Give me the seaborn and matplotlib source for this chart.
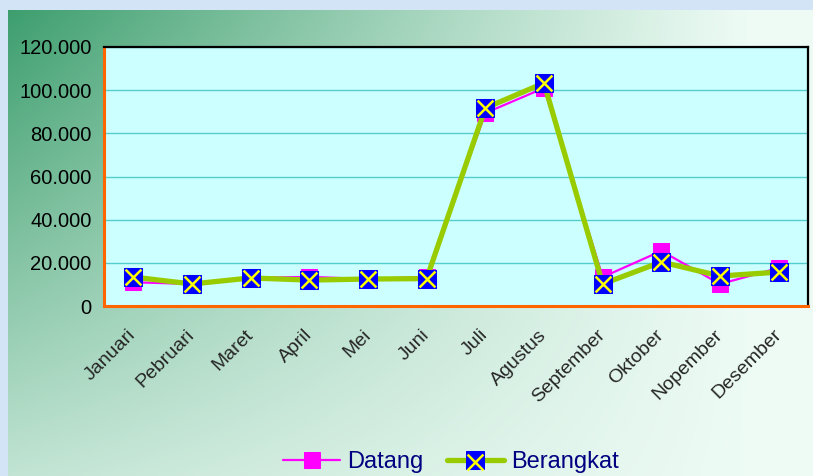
import numpy as np
import pandas as pd
import seaborn as sns
import matplotlib.pyplot as plt
from matplotlib.ticker import FuncFormatter
from matplotlib.legend_handler import HandlerTuple
from matplotlib.transforms import ScaledTranslation

# data
bulan = ['Januari', 'Pebruari', 'Maret', 'April', 'Mei', 'Juni', 'Juli',
         'Agustus', 'September', 'Oktober', 'Nopember', 'Desember']
datang = [11000, 10200, 13000, 13500, 12500, 13500, 89400, 101000,
          13400, 25500, 10200, 17600]
berangkat = [13400, 10200, 13000, 12000, 12500, 12700, 91700, 103300,
             10200, 20400, 13900, 15700]
y_ticks = [0, 20000, 40000, 60000, 80000, 100000, 120000]

df = pd.DataFrame({'bulan': bulan, 'Datang': datang, 'Berangkat': berangkat})

sns.set_style('white')
plt.rcParams['font.family'] = ['Liberation Sans', 'DejaVu Sans']

fig = plt.figure(figsize=(8.13, 4.76), dpi=100, facecolor='#d4e4f7')

# backdrop: green gradient fading to white
bg = fig.add_axes([8 / 813, 0, 1 - 8 / 813, 1 - 10 / 476])
gx, gy = np.meshgrid(np.linspace(0, 1, 300), np.linspace(0, 1, 200))
w = np.clip(1 - gx / 0.92, 0, 1) ** 1.1 * (1 - 0.75 * gy)
dark = np.array([0.24, 0.62, 0.43])
light = np.array([0.93, 0.985, 0.96])
img = light[None, None, :] * (1 - w[..., None]) + dark[None, None, :] * w[..., None]
bg.imshow(img, aspect='auto', extent=[0, 1, 0, 1], origin='upper')
bg.set_axis_off()

ax = fig.add_axes([104 / 813, 1 - 306 / 476, 704 / 813, 259 / 476])
ax.set_facecolor('#ccffff')

sns.lineplot(data=df, x='bulan', y='Datang', ax=ax, sort=False, color='#ff00ff',
             lw=1.6, marker='s', markersize=12, markerfacecolor='#ff00ff',
             markeredgecolor='#ff00ff', zorder=3)
sns.lineplot(data=df, x='bulan', y='Berangkat', ax=ax, sort=False, color='#99cc00',
             lw=3.8, marker='s', markersize=13, markerfacecolor='#0000ff',
             markeredgecolor='#0000ff', zorder=4)
sns.scatterplot(data=df, x='bulan', y='Berangkat', ax=ax, marker='x', s=130,
                color='#ffff00', linewidth=1.8, zorder=5)

line_d, line_b = ax.lines[0], ax.lines[1]
cross = ax.collections[-1]

ax.set_xlim(-0.5, 11.5)
ax.set_ylim(0, 120000)
ax.set_yticks(y_ticks)
ax.yaxis.set_major_formatter(FuncFormatter(lambda v, p: f'{int(v):,}'.replace(',', '.')))
ax.yaxis.grid(True, color='#55cccc', lw=1)
ax.set_axisbelow(True)

ax.set_xticks(np.arange(-0.5, 12, 1))
ax.set_xticklabels([])
ax.set_xticks(range(len(bulan)), minor=True)
ax.set_xticklabels(bulan, minor=True, rotation=45, ha='right',
                   rotation_mode='anchor', va='center', fontsize=14)
shift = ScaledTranslation(-0.07, 0, fig.dpi_scale_trans)
for lbl in ax.get_xticklabels(minor=True):
    lbl.set_transform(lbl.get_transform() + shift)
ax.tick_params(axis='x', which='major', color='#ff6600', length=6, width=2, direction='out')
ax.tick_params(axis='x', which='minor', length=0, pad=19)
ax.tick_params(axis='y', color='#ff6600', length=6, width=2, direction='out',
               labelsize=14.5, labelcolor='black', pad=3)
ax.set_xlabel('')
ax.set_ylabel('')

for side in ['top', 'right']:
    ax.spines[side].set_color('black')
    ax.spines[side].set_linewidth(1.6)
for side in ['left', 'bottom']:
    ax.spines[side].set_color('#ff6600')
    ax.spines[side].set_linewidth(2.2)

if ax.get_legend():
    ax.get_legend().remove()

leg = fig.legend([line_d, (line_b, cross)], ['Datang', 'Berangkat'],
                 handler_map={tuple: HandlerTuple(ndivide=1)},
                 loc='center', bbox_to_anchor=(451 / 813, 1 - 462 / 476), ncol=2,
                 frameon=False, fontsize=17, handlelength=2.4, handletextpad=0.3,
                 columnspacing=1.0, labelcolor='#000080')

fig.savefig('out.png', dpi=100, facecolor=fig.get_facecolor())
